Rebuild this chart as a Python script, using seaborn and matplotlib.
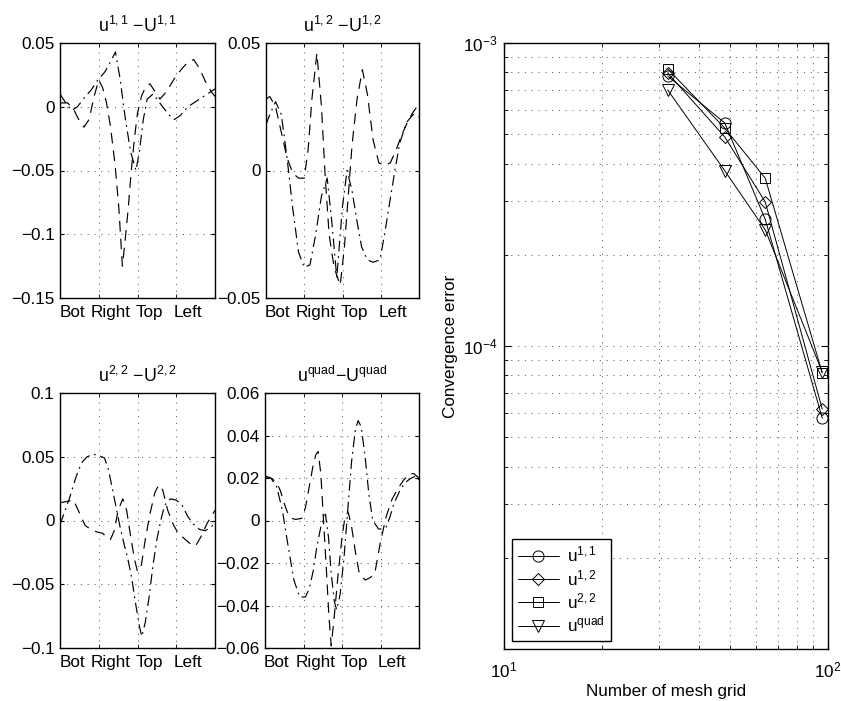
import numpy as np
import pandas as pd
import matplotlib
matplotlib.use("Agg")
import matplotlib.pyplot as plt
import seaborn as sns
from matplotlib.ticker import FixedLocator, LogLocator, NullFormatter, LogFormatterSciNotation

# ---------------- data ----------------
side_labels = ["Bot", "Right", "Top", "Left"]

# u^{1,1} - U^{1,1}
u11_dash_x = [0, 0.2, 0.35, 0.5, 0.62, 0.75, 0.88, 1.0, 1.1, 1.2, 1.3, 1.42, 1.52, 1.61, 1.68, 1.76, 1.84,
              1.92, 2.0, 2.1, 2.2, 2.32, 2.45, 2.58, 2.75, 2.95, 3.15, 3.3, 3.45, 3.6, 3.75, 3.9, 4.0]
u11_dash_y = [0.003, 0.003, -0.002, -0.011, -0.016, -0.01, 0.008, 0.021, 0.015, 0.003, -0.015, -0.045, -0.08,
              -0.125, -0.105, -0.08, -0.05, -0.025, -0.005, 0.008, 0.015, 0.018, 0.012, 0.006, 0.012, 0.022,
              0.03, 0.035, 0.037, 0.03, 0.02, 0.012, 0.008]
u11_dd_x = [0, 0.15, 0.3, 0.45, 0.6, 0.8, 1.0, 1.15, 1.3, 1.43, 1.55, 1.68, 1.82, 1.96, 2.05, 2.15, 2.25,
            2.4, 2.6, 2.8, 2.95, 3.1, 3.3, 3.5, 3.7, 3.9, 4.0]
u11_dd_y = [0.01, 0.003, -0.003, 0.0, 0.006, 0.013, 0.022, 0.027, 0.035, 0.043, 0.022, -0.008, -0.035, -0.05,
            -0.035, -0.01, 0.006, 0.01, 0.002, -0.006, -0.01, -0.007, 0.0, 0.004, 0.008, 0.012, 0.014]

# u^{1,2} - U^{1,2}
u12_dash_x = [0, 0.1, 0.25, 0.4, 0.55, 0.7, 0.85, 1.0, 1.1, 1.2, 1.33, 1.45, 1.55, 1.65, 1.78, 1.94, 2.05,
              2.15, 2.25, 2.38, 2.52, 2.65, 2.8, 2.95, 3.1, 3.25, 3.4, 3.55, 3.7, 3.85, 4.0]
u12_dash_y = [0.028, 0.029, 0.025, 0.015, 0.005, -0.001, -0.003, -0.003, 0.008, 0.028, 0.046, 0.025, -0.003,
              -0.025, -0.038, -0.045, -0.03, -0.01, 0.01, 0.028, 0.0395, 0.03, 0.012, 0.003, 0.002, 0.003,
              0.008, 0.014, 0.019, 0.023, 0.026]
u12_dd_x = [0, 0.1, 0.25, 0.4, 0.55, 0.7, 0.85, 1.0, 1.15, 1.3, 1.45, 1.6, 1.72, 1.85, 2.0, 2.12, 2.25, 2.38,
            2.5, 2.65, 2.8, 2.98, 3.1, 3.25, 3.37, 3.5, 3.68, 3.85, 4.0]
u12_dd_y = [0.018, 0.022, 0.027, 0.022, 0.005, -0.015, -0.032, -0.038, -0.037, -0.025, -0.01, -0.003, -0.02,
            -0.042, -0.014, 0.0, -0.008, -0.02, -0.03, -0.035, -0.036, -0.035, -0.025, -0.011, 0.0, 0.011,
            0.019, 0.022, 0.021]

# u^{2,2} - U^{2,2}
u22_dash_x = [0, 0.2, 0.35, 0.5, 0.65, 0.8, 0.95, 1.1, 1.2, 1.3, 1.4, 1.5, 1.62, 1.72, 1.82, 1.92, 2.0, 2.1,
              2.2, 2.32, 2.45, 2.55, 2.65, 2.78, 2.92, 3.05, 3.2, 3.35, 3.5, 3.65, 3.8, 4.0]
u22_dash_y = [0.014, 0.015, 0.016, 0.006, -0.004, -0.007, -0.009, -0.01, -0.013, -0.015, -0.008, 0.008, 0.017,
              0.008, -0.012, -0.03, -0.04, -0.035, -0.015, 0.005, 0.022, 0.028, 0.024, 0.008, -0.003, -0.01,
              -0.014, -0.018, -0.02, -0.012, -0.002, 0.008]
u22_dd_x = [0, 0.1, 0.25, 0.4, 0.55, 0.7, 0.86, 1.0, 1.15, 1.25, 1.35, 1.45, 1.55, 1.65, 1.75, 1.85, 1.95,
            2.05, 2.11, 2.2, 2.3, 2.4, 2.5, 2.6, 2.7, 2.85, 3.0, 3.15, 3.3, 3.45, 3.6, 3.75, 3.9, 4.0]
u22_dd_y = [-0.003, 0.005, 0.018, 0.033, 0.045, 0.05, 0.052, 0.051, 0.049, 0.04, 0.025, 0.01, -0.005, -0.018,
            -0.03, -0.045, -0.065, -0.083, -0.091, -0.08, -0.06, -0.035, -0.015, 0.0, 0.012, 0.017, 0.016,
            0.012, 0.003, -0.003, -0.007, -0.008, -0.005, -0.002]

# u^{quad} - U^{quad}
uq_dash_x = [0, 0.15, 0.3, 0.4, 0.5, 0.6, 0.7, 0.8, 0.95, 1.05, 1.15, 1.25, 1.32, 1.38, 1.45, 1.52, 1.6, 1.66,
             1.72, 1.8, 1.9, 2.0, 2.08, 2.16, 2.25, 2.35, 2.45, 2.6, 2.72, 2.85, 3.0, 3.15, 3.3, 3.45, 3.6,
             3.75, 3.87, 4.0]
uq_dash_y = [0.021, 0.020, 0.018, 0.014, 0.008, 0.003, 0.001, 0.0005, 0.001, 0.006, 0.016, 0.026, 0.031,
             0.0325, 0.022, 0.0, -0.025, -0.045, -0.059, -0.045, -0.025, -0.008, 0.002, 0.004, -0.003, -0.015,
             -0.025, -0.028, -0.027, -0.025, -0.01, 0.002, 0.01, 0.015, 0.019, 0.022, 0.022, 0.02]
uq_dd_x = [0, 0.15, 0.3, 0.45, 0.6, 0.75, 0.9, 1.05, 1.15, 1.25, 1.35, 1.45, 1.57, 1.65, 1.72, 1.8, 1.86,
           1.95, 2.05, 2.15, 2.25, 2.35, 2.42, 2.5, 2.6, 2.7, 2.8, 2.95, 3.05, 3.15, 3.25, 3.35, 3.5, 3.65,
           3.8, 3.93, 4.0]
uq_dd_y = [0.02, 0.02, 0.016, 0.005, -0.012, -0.028, -0.036, -0.036, -0.032, -0.024, -0.012, -0.003, 0.003,
           -0.008, -0.025, -0.038, -0.042, -0.035, -0.018, 0.005, 0.028, 0.043, 0.047, 0.044, 0.03, 0.012,
           0.0, -0.004, -0.004, -0.003, 0.002, 0.008, 0.014, 0.018, 0.02, 0.021, 0.019]

u11_yticks = [-0.15, -0.1, -0.05, 0, 0.05]
u12_yticks = [-0.05, 0, 0.05]
u22_yticks = [-0.1, -0.05, 0, 0.05, 0.1]
uq_yticks = [-0.06, -0.04, -0.02, 0, 0.02, 0.04, 0.06]

# convergence
mesh_n = [32, 48, 64, 96]
err_u11 = [7.78e-4, 5.45e-4, 2.62e-4, 5.78e-5]
err_u12 = [7.96e-4, 4.90e-4, 2.99e-4, 6.19e-5]
err_u22 = [8.21e-4, 5.24e-4, 3.58e-4, 8.15e-5]
err_uq = [7.00e-4, 3.79e-4, 2.42e-4, 8.20e-5]
series_labels = ["u$^{1,1}$", "u$^{1,2}$", "u$^{2,2}$", "u$^{quad}$"]

# ---------------- style ----------------
sns.set_style("white")
plt.rcParams["font.family"] = ["Liberation Sans", "DejaVu Sans"]
plt.rcParams["mathtext.fontset"] = "custom"
plt.rcParams["mathtext.rm"] = "Liberation Sans"
plt.rcParams["mathtext.it"] = "Liberation Sans:italic"
plt.rcParams["mathtext.bf"] = "Liberation Sans:bold"
plt.rcParams["mathtext.default"] = "regular"
for key in ["text.color", "axes.labelcolor", "xtick.color", "ytick.color", "axes.edgecolor"]:
    plt.rcParams[key] = "black"

FS = 12.3
DASH = (0, (9, 6))
DASHDOT = (0, (9, 4, 1.5, 4))
GRID = (0, (1, 6))

fig = plt.figure(figsize=(8.41, 7.01), dpi=100)
W, H = 841.0, 701.0


def box(l, r, t, b):
    return [l / W, 1 - b / H, (r - l) / W, (b - t) / H]


def fmt(v):
    return ("%g" % v).replace("-", "\u2212")


def small(rect, xa, ya, xb, yb, yticks, title):
    ax = fig.add_axes(rect)
    sns.lineplot(x=xa, y=ya, ax=ax, color="k", lw=0.85, linestyle=DASH, errorbar=None)
    sns.lineplot(x=xb, y=yb, ax=ax, color="k", lw=0.85, linestyle=DASHDOT, errorbar=None)
    ax.set_xlim(0, 4)
    ax.set_ylim(yticks[0], yticks[-1])
    ax.set_yticks(yticks)
    ax.set_yticklabels([fmt(v) for v in yticks])
    ax.set_xticks([i + 0.31 for i in range(4)])
    ax.set_xticklabels(side_labels)
    ax.set_xticks([1, 2, 3], minor=True)
    ax.tick_params(axis="x", which="major", length=0, pad=5, labelsize=FS)
    ax.tick_params(axis="x", which="minor", length=3, direction="in", top=True, bottom=True)
    ax.tick_params(axis="y", which="major", direction="in", length=3, left=True, right=True, pad=4,
                   labelsize=FS)
    ax.grid(False)
    ax.grid(True, which="minor", axis="x", ls=GRID, color="0.3", lw=0.7)
    ax.grid(True, which="major", axis="y", ls=GRID, color="0.3", lw=0.7)
    ax.set_title(title, fontsize=FS + 0.5, pad=8)
    ax.set_xlabel("")
    ax.set_ylabel("")
    for s in ax.spines.values():
        s.set_color("k")
        s.set_linewidth(1.0)
    return ax


small(box(60, 215, 43, 298), u11_dash_x, u11_dash_y, u11_dd_x, u11_dd_y, u11_yticks,
      "u$^{1,1}$ \u2212U$^{1,1}$")
small(box(266, 419, 43, 298), u12_dash_x, u12_dash_y, u12_dd_x, u12_dd_y, u12_yticks,
      "u$^{1,2}$ \u2212U$^{1,2}$")
small(box(60, 215, 393, 648), u22_dash_x, u22_dash_y, u22_dd_x, u22_dd_y, u22_yticks,
      "u$^{2,2}$ \u2212U$^{2,2}$")
small(box(265, 419, 393, 648), uq_dash_x, uq_dash_y, uq_dd_x, uq_dd_y, uq_yticks,
      "u$^{quad}$\u2212U$^{quad}$")

# ---------------- convergence panel ----------------
ax = fig.add_axes(box(504, 828, 43, 649))
ax.set_xscale("log")
ax.set_yscale("log")
markers = ["o", "D", "s", "v"]
msizes = [8, 6.5, 7.5, 8.5]
for errs, m, ms, lab in zip([err_u11, err_u12, err_u22, err_uq], markers, msizes, series_labels):
    sns.lineplot(x=mesh_n, y=errs, ax=ax, color="k", lw=0.7, marker=m, markersize=ms,
                 markerfacecolor="none", markeredgecolor="k", markeredgewidth=0.7,
                 label=lab, errorbar=None)
ax.set_xlim(10, 100)
ax.set_ylim(1e-5, 1e-3)
ax.xaxis.set_major_locator(FixedLocator([10, 100]))
ax.xaxis.set_major_formatter(LogFormatterSciNotation())
ax.xaxis.set_minor_locator(LogLocator(base=10, subs=np.arange(2, 10)))
ax.xaxis.set_minor_formatter(NullFormatter())
ax.yaxis.set_major_locator(FixedLocator([1e-4, 1e-3]))
ax.yaxis.set_major_formatter(LogFormatterSciNotation())
ax.yaxis.set_minor_locator(LogLocator(base=10, subs=np.arange(2, 10)))
ax.yaxis.set_minor_formatter(NullFormatter())
ax.tick_params(which="both", direction="in", top=True, right=True, bottom=True, left=True)
ax.tick_params(which="major", length=5, labelsize=FS)
ax.tick_params(axis="x", which="major", pad=8)
ax.tick_params(axis="y", which="major", pad=5)
ax.tick_params(which="minor", length=3)
ax.grid(True, which="both", ls=GRID, color="0.3", lw=0.7)
ax.set_xlabel("Number of mesh grid", fontsize=FS, labelpad=3)
ax.set_ylabel("Convergence error", fontsize=FS, labelpad=3)
for s in ax.spines.values():
    s.set_color("k")
    s.set_linewidth(1.0)
leg = ax.legend(loc="lower left", bbox_to_anchor=(0.024, 0.014), frameon=True, fancybox=False,
                edgecolor="k", framealpha=1, fontsize=FS, handlelength=2.4, borderpad=0.35,
                labelspacing=0.2, handletextpad=0.5, borderaxespad=0)
leg.get_frame().set_linewidth(1.0)

fig.savefig("out.png", dpi=100)
